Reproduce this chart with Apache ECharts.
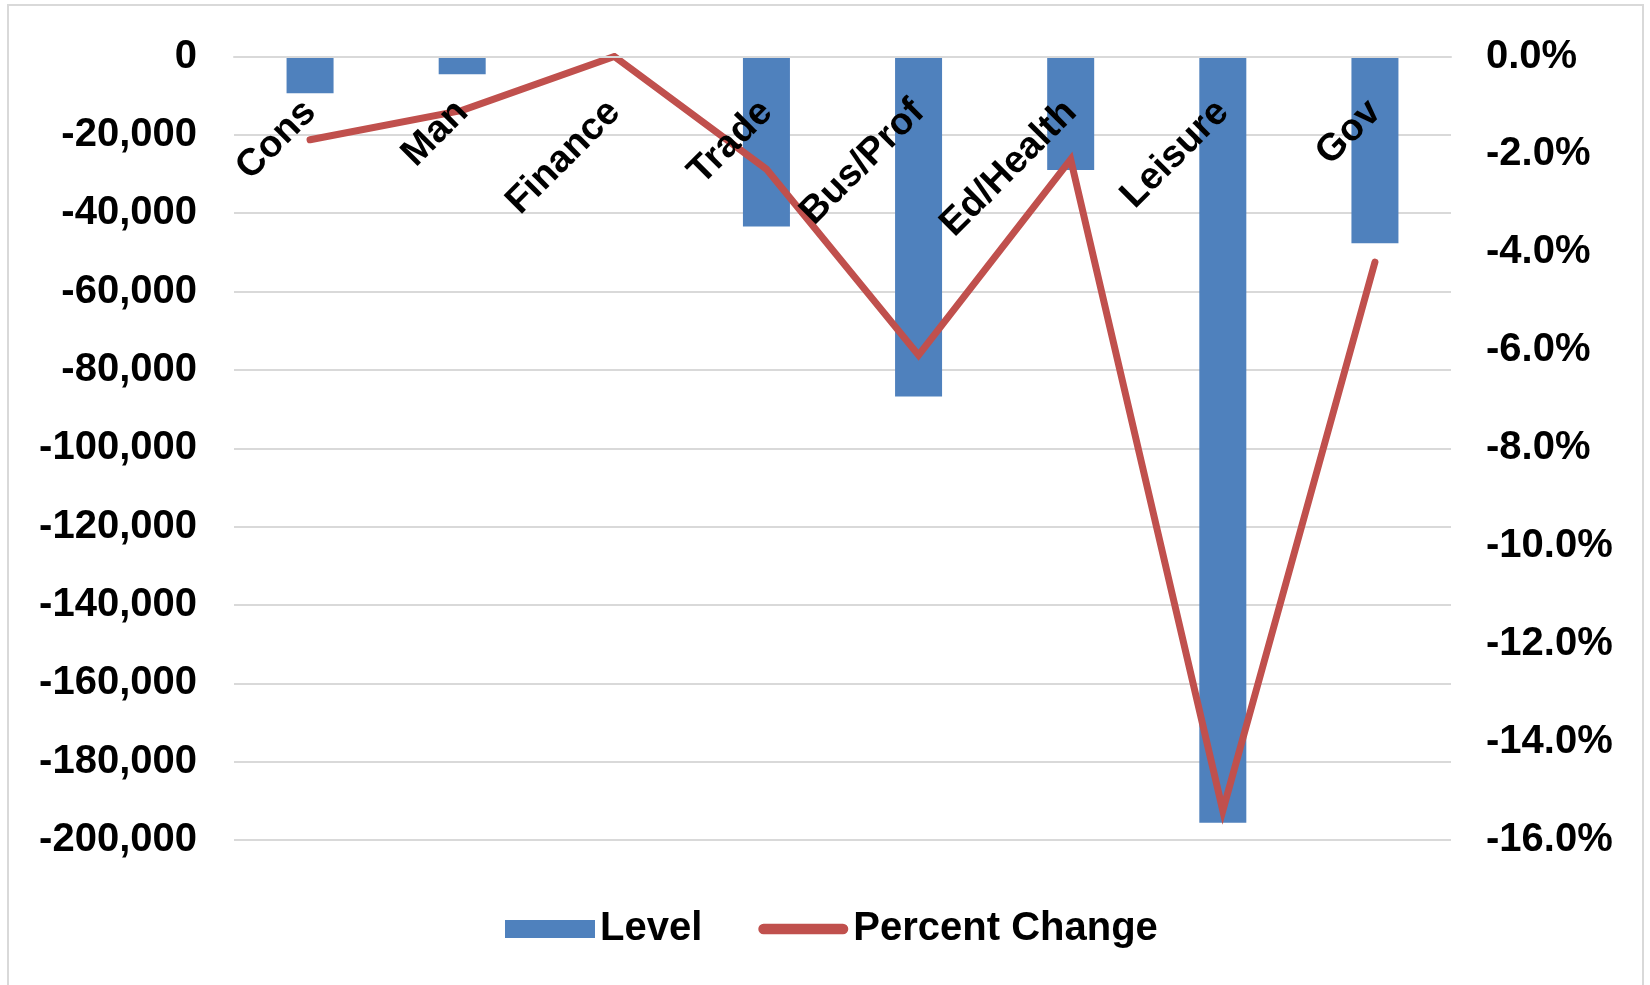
<!DOCTYPE html>
<html>
<head>
<meta charset="utf-8">
<title>Job losses by sector</title>
<script src="https://cdn.jsdelivr.net/npm/echarts@6/dist/echarts.min.js"></script>
<style>
  html, body { margin: 0; padding: 0; background: #ffffff; }
  #chart { width: 1650px; height: 985px; }
</style>
</head>
<body>
<div id="chart"></div>
<script>
// Sectors along the category axis
const sectors = ['Cons', 'Man', 'Finance', 'Trade', 'Bus/Prof', 'Ed/Health', 'Leisure', 'Gov'];
// Change in employment level (jobs)
const levelValues = [-9400, -4500, 0, -43400, -86800, -29000, -195600, -47700];
// Percent change in employment (%)
const percentValues = [-1.7, -1.1, 0.0, -2.3, -6.1, -2.1, -15.4, -4.2];
// Axis ranges
const levelAxis = { min: -200000, max: 0, step: 20000 };
const percentAxis = { min: -16, max: 0, step: 2 };

const FONT = '"Liberation Sans", Arial, sans-serif';
const BLUE = '#4F81BD';
const RED = '#C0504D';
const GRID = '#D9D9D9';

const chart = echarts.init(document.getElementById('chart'), null, { renderer: 'canvas' });

chart.setOption({
  backgroundColor: '#ffffff',
  animation: false,
  graphic: [{
    type: 'rect',
    shape: { x: 8, y: 5, width: 1635, height: 1000 },
    style: { fill: 'none', stroke: GRID, lineWidth: 2 },
    silent: true,
    z: -1
  }],
  grid: {
    left: 234, right: 199, top: 56.5, bottom: 145,
    containLabel: false,
    outerBoundsMode: 'none'
  },
  legend: {
    left: 505,
    top: 909,
    padding: 0,
    itemWidth: 90,
    itemHeight: 18,
    itemGap: 56,
    textStyle: { fontFamily: FONT, fontSize: 40, fontWeight: 'bold', color: '#000' },
    data: [
      { name: 'Level', icon: 'rect' },
      {
        name: 'Percent Change',
        icon: 'path://M5.5,0 L87.5,0 A5.5,5.5 0 0 1 87.5,11 L5.5,11 A5.5,5.5 0 0 1 5.5,0 Z',
        itemStyle: { color: RED },
        lineStyle: { width: 0 }
      }
    ]
  },
  xAxis: {
    type: 'category',
    data: sectors,
    position: 'top',
    z: 10,
    axisLine: { show: true, onZero: false, lineStyle: { color: GRID, width: 2 } },
    axisTick: { show: false },
    splitLine: { show: false },
    axisLabel: {
      inside: true,
      interval: 0,
      rotate: -45,
      margin: 50,
      align: 'right',
      verticalAlign: 'middle',
      fontFamily: FONT,
      fontSize: 38,
      fontWeight: 'bold',
      color: '#000'
    }
  },
  yAxis: [
    {
      type: 'value',
      min: levelAxis.min,
      max: levelAxis.max,
      interval: levelAxis.step,
      axisLine: { show: false },
      axisTick: { show: false },
      splitLine: { show: true, lineStyle: { color: GRID, width: 2 } },
      axisLabel: {
        margin: 37,
        fontFamily: FONT,
        fontSize: 40,
        fontWeight: 'bold',
        color: '#000',
        formatter: v => v.toLocaleString('en-US')
      }
    },
    {
      type: 'value',
      min: percentAxis.min,
      max: percentAxis.max,
      interval: percentAxis.step,
      axisLine: { show: false },
      axisTick: { show: false },
      splitLine: { show: false },
      axisLabel: {
        margin: 35,
        fontFamily: FONT,
        fontSize: 40,
        fontWeight: 'bold',
        color: '#000',
        formatter: v => v.toFixed(1) + '%'
      }
    }
  ],
  series: [
    {
      name: 'Level',
      type: 'bar',
      yAxisIndex: 0,
      data: levelValues,
      barWidth: 47,
      itemStyle: { color: BLUE },
      z: 2
    },
    {
      name: 'Percent Change',
      type: 'line',
      yAxisIndex: 1,
      data: percentValues,
      symbol: 'none',
      itemStyle: { color: RED },
      lineStyle: { color: RED, width: 7, cap: 'round', join: 'miter' },
      z: 3
    }
  ]
});
</script>
</body>
</html>
